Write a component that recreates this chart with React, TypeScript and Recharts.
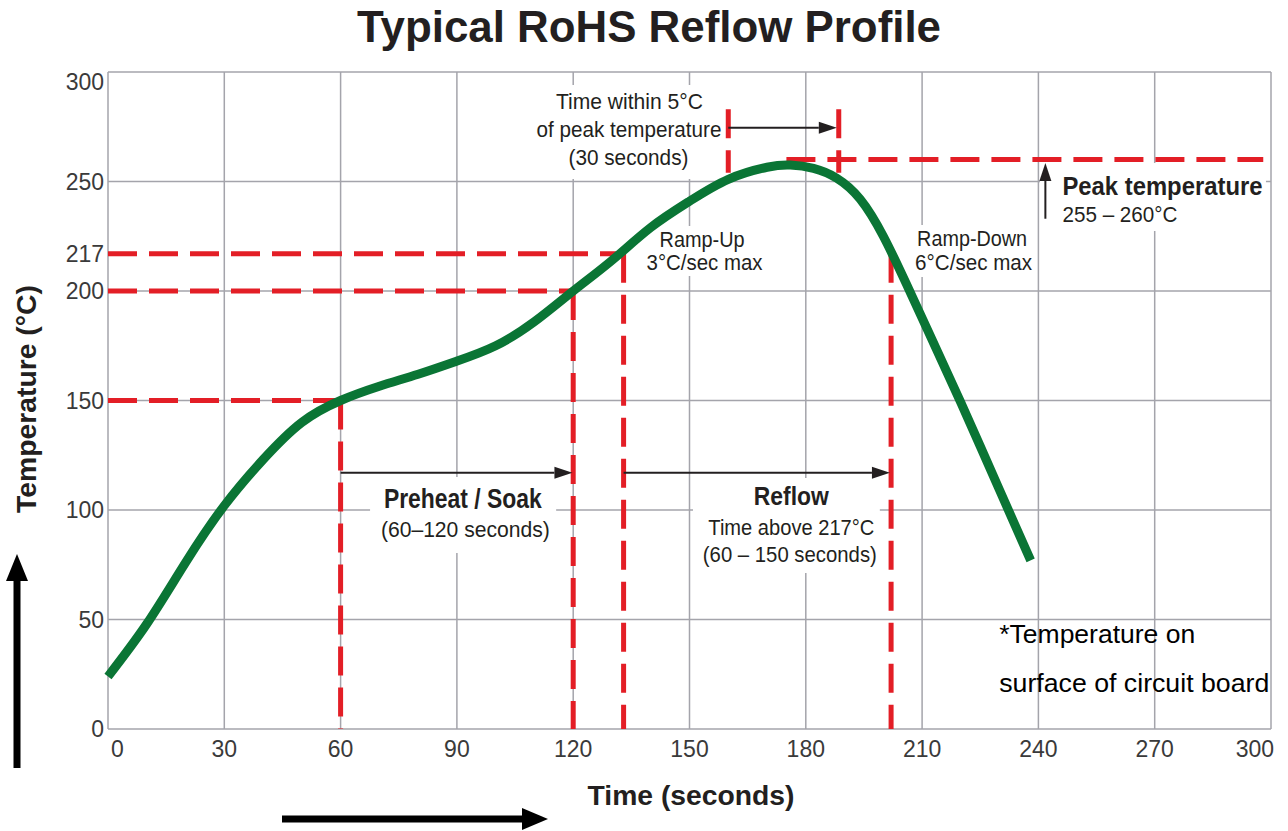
import { ComposedChart, Line, XAxis, YAxis, CartesianGrid, ReferenceLine, ReferenceDot, ReferenceArea } from 'recharts'

// reflow curve
const timeSec = [0, 10, 20, 30, 40, 50, 60, 70, 80, 90, 100, 110, 120, 130, 140, 150, 160, 170, 176, 182, 188, 194, 200, 206, 212, 220, 230, 238]
const tempC = [24, 48, 76, 102, 123, 140, 150, 156.5, 162, 168, 175, 186, 200, 214, 229, 241, 251, 256.5, 257.5, 256, 251.5, 242, 225, 203, 180, 149, 109, 77]

const xTicks = [0, 30, 60, 90, 120, 150, 180, 210, 240, 270, 300]
const yTicks = [0, 50, 100, 150, 200, 217, 250, 300]
const yGrid = [0, 50, 100, 150, 200, 250, 300]

// red dashed guides: [t1, T1, t2, T2]
const guides = [
  [0, 150, 60, 150],
  [0, 200, 120, 200],
  [0, 217, 133, 217],
  [60, 150, 60, 0],
  [120, 200, 120, 0],
  [133, 217, 133, 0],
  [202, 217, 202, 0],
  [160, 283, 160, 254],
  [188.5, 283, 188.5, 254],
  [175, 260, 298, 260],
]

// black arrows: [t1, T1, t2, T2], head at the second point
const arrows = [
  [60, 117, 119.8, 117],
  [133, 117, 201.7, 117],
  [160, 274.5, 188, 274.5],
  [241.8, 233, 241.8, 258.5],
]

const data = timeSec.map((t, i) => ({ t, temp: tempC[i] }))

const FONT = '"Liberation Sans", Arial, Helvetica, sans-serif'
const INK = '#231f20'
const RED = '#e31e26'

function XTick(props: any) {
  const { x, y, payload } = props
  const v = payload.value
  const anchor = v === 0 ? 'start' : v === 300 ? 'end' : 'middle'
  const dx = v === 0 || v === 300 ? 3 : 0
  return (
    <text x={x + dx} y={y + 28} textAnchor={anchor} fontFamily={FONT} fontSize={23} fill="#3a3a3a">
      {v}
    </text>
  )
}

function YTick(props: any) {
  const { x, y, payload } = props
  const v = payload.value
  const dy = v === 300 ? 18 : 8
  return (
    <text x={x} y={y + dy} textAnchor="end" fontFamily={FONT} fontSize={23} fill="#3a3a3a">
      {v}
    </text>
  )
}

interface NoteLine {
  text: string
  dx: number
  dy: number
  size: number
  len: number
  bold?: boolean
}

function Note(props: any) {
  const { viewBox, lines, anchor = 'middle', color = INK } = props
  const cx = viewBox.x + (viewBox.width || 0) / 2
  const cy = viewBox.y + (viewBox.height || 0) / 2
  return (
    <g>
      {lines.map((l: NoteLine, i: number) => (
        <text
          key={i}
          x={cx + l.dx}
          y={cy + l.dy}
          textAnchor={anchor}
          fontFamily={FONT}
          fontSize={l.size}
          fontWeight={l.bold ? 700 : 400}
          textLength={l.len}
          lengthAdjust="spacingAndGlyphs"
          fill={color}
        >
          {l.text}
        </text>
      ))}
    </g>
  )
}

function Arrow(props: any) {
  const { x1, y1, x2, y2 } = props
  const a = Math.atan2(y2 - y1, x2 - x1)
  const L = 18
  const W = 6
  const bx = x2 - L * Math.cos(a)
  const by = y2 - L * Math.sin(a)
  const pts = [
    `${x2},${y2}`,
    `${bx - W * Math.sin(a)},${by + W * Math.cos(a)}`,
    `${bx + W * Math.sin(a)},${by - W * Math.cos(a)}`,
  ].join(' ')
  return (
    <g>
      <line x1={x1} y1={y1} x2={bx} y2={by} stroke={INK} strokeWidth={2} />
      <polygon points={pts} fill={INK} />
    </g>
  )
}

// white panels behind the annotation texts (they hide the grid)
const panel = { fill: '#fff', fillOpacity: 1, stroke: 'none' }

export default function App() {
  return (
    <div style={{ position: 'absolute', left: 0, top: 0, width: 1288, height: 831, background: '#fff' }}>
      <ComposedChart width={1288} height={831} data={data} margin={{ top: 72, right: 17, bottom: 62, left: 48 }}>
        <CartesianGrid horizontalValues={yGrid} verticalValues={xTicks} stroke="#a4a4ab" strokeWidth={1.5} />
        <XAxis
          dataKey="t"
          type="number"
          domain={[0, 300]}
          ticks={xTicks}
          interval={0}
          axisLine={false}
          tickLine={false}
          tickSize={0}
          tickMargin={0}
          height={40}
          tick={<XTick />}
        />
        <YAxis
          type="number"
          domain={[0, 300]}
          ticks={yTicks}
          interval={0}
          axisLine={false}
          tickLine={false}
          tickSize={0}
          tickMargin={4}
          width={60}
          tick={<YTick />}
        />

        <ReferenceArea x1={108.3} x2={158.9} y1={251.1} y2={294.1} {...panel} />
        <ReferenceArea x1={138.5} x2={169.5} y1={206.8} y2={229.7} {...panel} />
        <ReferenceArea x1={206.1} x2={238.6} y1={206.4} y2={230.1} {...panel} />
        <ReferenceArea x1={240.4} x2={298.7} y1={227.4} y2={258.4} {...panel} />
        <ReferenceArea x1={67.6} x2={115.6} y1={80.4} y2={115.1} {...panel} />
        <ReferenceArea x1={150.9} x2={199.1} y1={71.2} y2={114.6} {...panel} />

        <ReferenceDot
          x={134}
          y={272.6}
          r={0}
          fill="none"
          stroke="none"
          label={
            <Note
              lines={[
                { text: 'Time within 5°C', dx: 2, dy: -23, size: 22, len: 147 },
                { text: 'of peak temperature', dx: 1.5, dy: 5, size: 22, len: 185 },
                { text: '(30 seconds)', dx: 1, dy: 33, size: 22, len: 120 },
              ]}
            />
          }
        />
        <ReferenceDot
          x={154.4}
          y={218.3}
          r={0}
          fill="none"
          stroke="none"
          label={
            <Note
              lines={[
                { text: 'Ramp-Up', dx: -4.5, dy: -4, size: 22, len: 85 },
                { text: '3°C/sec max', dx: -2, dy: 19, size: 22, len: 116 },
              ]}
            />
          }
        />
        <ReferenceDot
          x={222.9}
          y={218.3}
          r={0}
          fill="none"
          stroke="none"
          label={
            <Note
              lines={[
                { text: 'Ramp-Down', dx: 0, dy: -5, size: 22, len: 110 },
                { text: '6°C/sec max', dx: 1.5, dy: 19, size: 22, len: 117 },
              ]}
            />
          }
        />
        <ReferenceDot
          x={270.2}
          y={242.9}
          r={0}
          fill="none"
          stroke="none"
          label={
            <Note
              anchor="start"
              lines={[
                { text: 'Peak temperature', dx: -93, dy: -2, size: 25, len: 200, bold: true },
                { text: '255 – 260°C', dx: -93, dy: 25, size: 22, len: 115 },
              ]}
            />
          }
        />
        <ReferenceDot
          x={91.8}
          y={97.7}
          r={0}
          fill="none"
          stroke="none"
          label={
            <Note
              lines={[
                { text: 'Preheat / Soak', dx: -1, dy: -7, size: 28, len: 158, bold: true },
                { text: '(60–120 seconds)', dx: 1.5, dy: 22, size: 22, len: 169 },
              ]}
            />
          }
        />
        <ReferenceDot
          x={175.5}
          y={92.9}
          r={0}
          fill="none"
          stroke="none"
          label={
            <Note
              lines={[
                { text: 'Reflow', dx: 3, dy: -20.5, size: 26, len: 75, bold: true },
                { text: 'Time above 217°C', dx: 3, dy: 9.5, size: 22, len: 166 },
                { text: '(60 – 150 seconds)', dx: 1.5, dy: 36.5, size: 22, len: 174 },
              ]}
            />
          }
        />
        <ReferenceDot
          x={229.9}
          y={39.3}
          r={0}
          fill="none"
          stroke="none"
          label={
            <Note
              anchor="start"
              color="#000"
              lines={[
                { text: '*Temperature on', dx: 0, dy: 0, size: 26, len: 196 },
                { text: 'surface of circuit board', dx: 0, dy: 49, size: 26, len: 270 },
              ]}
            />
          }
        />

        {guides.map((g, i) => (
          <ReferenceLine
            key={'g' + i}
            segment={[
              { x: g[0], y: g[1] },
              { x: g[2], y: g[3] },
            ]}
            stroke={RED}
            strokeWidth={5}
            strokeDasharray="29 12"
          />
        ))}
        {arrows.map((a, i) => (
          <ReferenceLine
            key={'a' + i}
            segment={[
              { x: a[0], y: a[1] },
              { x: a[2], y: a[3] },
            ]}
            shape={<Arrow />}
          />
        ))}

        <Line
          dataKey="temp"
          type="natural"
          stroke="#0a7535"
          strokeWidth={9}
          dot={false}
          activeDot={false}
          isAnimationActive={false}
        />
      </ComposedChart>

      <svg width={1288} height={831} style={{ position: 'absolute', left: 0, top: 0, pointerEvents: 'none' }}>
        <text
          x={649}
          y={42}
          textAnchor="middle"
          fontFamily={FONT}
          fontSize={44}
          fontWeight={700}
          textLength={584}
          lengthAdjust="spacingAndGlyphs"
          fill={INK}
        >
          Typical RoHS Reflow Profile
        </text>
        <text
          x={691}
          y={805}
          textAnchor="middle"
          fontFamily={FONT}
          fontSize={28}
          fontWeight={700}
          textLength={207}
          lengthAdjust="spacingAndGlyphs"
          fill={INK}
        >
          Time (seconds)
        </text>
        <text
          x={36}
          y={399}
          transform="rotate(-90 36 399)"
          textAnchor="middle"
          fontFamily={FONT}
          fontSize={28}
          fontWeight={700}
          textLength={228}
          lengthAdjust="spacingAndGlyphs"
          fill={INK}
        >
          Temperature (°C)
        </text>
        <rect x={13.5} y={578} width={7} height={190} fill="#000" />
        <polygon points="17,554 6,581 28,581" fill="#000" />
        <rect x={282} y={815.5} width={243} height={7} fill="#000" />
        <polygon points="548,819 522,808 522,830" fill="#000" />
      </svg>
    </div>
  )
}
